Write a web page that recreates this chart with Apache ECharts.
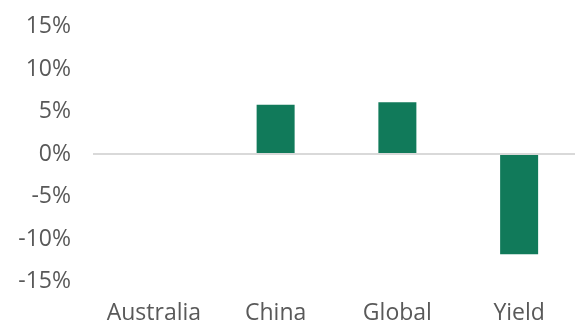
<!DOCTYPE html>
<html>
<head>
<meta charset="utf-8">
<script src="https://cdn.jsdelivr.net/npm/echarts@6/dist/echarts.min.js"></script>
<style>
  html, body { margin: 0; padding: 0; background: #fff; overflow: hidden; }
  #chart { width: 580px; height: 320px; }
</style>
</head>
<body>
<div id="chart"></div>
<script>
// Return contributions by category (percent)
const categories = ['Australia', 'China', 'Global', 'Yield'];
const values = [-0.1, 5.8, 6.1, -11.8];
const yTicks = { min: -15, max: 15, step: 5 };

const chart = echarts.init(document.getElementById('chart'), null, { renderer: 'canvas' });

const fontFamily = '"Open Sans", "Noto Sans", sans-serif';
const textColor = '#595959';

chart.setOption({
  animation: false,
  grid: {
    left: 93, right: 0, top: 26.5, bottom: 38.5,
    containLabel: false, outerBoundsMode: 'none'
  },
  xAxis: {
    type: 'category',
    data: categories,
    axisLine: { show: false, onZero: false },
    axisTick: { show: false },
    axisLabel: { color: textColor, fontSize: 23, fontFamily: fontFamily, margin: 20, interval: 0 }
  },
  yAxis: {
    type: 'value',
    min: yTicks.min,
    max: yTicks.max,
    interval: yTicks.step,
    axisLine: { show: false },
    axisTick: { show: false },
    splitLine: { show: false },
    axisLabel: {
      color: textColor, fontSize: 23, fontFamily: fontFamily, margin: 22,
      formatter: v => v + '%'
    }
  },
  series: [{
    type: 'bar',
    data: values,
    barWidth: 38,
    itemStyle: { color: '#117A5A' },
    markLine: {
      silent: true,
      symbol: ['none', 'none'],
      label: { show: false },
      lineStyle: { color: '#d9d9d9', width: 2, type: 'solid' },
      data: [{ yAxis: 0 }]
    }
  }]
});
</script>
</body>
</html>
